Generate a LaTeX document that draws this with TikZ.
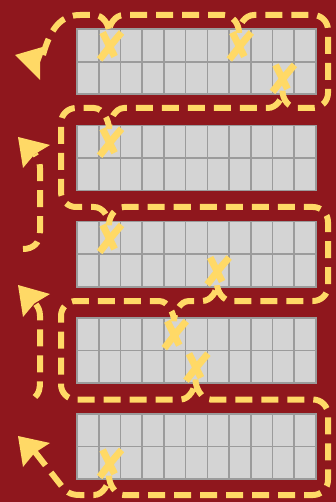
\documentclass[tikz,border=0pt]{standalone}
\begin{document}
\definecolor{bgred}{RGB}{143,23,29}
\definecolor{yel}{RGB}{255,217,102}
\definecolor{cellgray}{RGB}{212,212,212}
\definecolor{gline}{RGB}{155,155,155}
\begin{tikzpicture}[x=1pt,y=-1pt,
  dashpath/.style={draw=yel,line width=6pt,dash pattern=on 17pt off 9pt},
  xstroke/.style={draw=yel,line width=7pt},
  gridline/.style={draw=gline,line width=1.6pt},
  arrowtip/.style={fill=yel},
  xm/.pic={\draw[xstroke] (-10,14) .. controls (-3,5) and (4,-4) .. (12,-13);
           \draw[xstroke] (-7,-13) .. controls (-2,-3) and (1,3) .. (5,11);}]
\useasboundingbox (0,0) rectangle (336,502);
\fill[bgred] (0,0) rectangle (336,502);
% grids
\foreach \i in {0,...,4}{
  \pgfmathsetmacro\T{29.3+96.2*\i}
  \fill[cellgray] (77,\T) rectangle (316,\T+65);
  \foreach \k in {1,...,10}{\draw[gridline] (77+21.727*\k,\T) -- (77+21.727*\k,\T+65);}
  \draw[gridline] (77,\T+32.5) -- (316,\T+32.5);
  \draw[gridline] (77,\T) rectangle (316,\T+65);
}
% serpentine dashed path
\draw[dashpath] (43,55) .. controls (50,30) and (60,15) .. (80,15)
 -- (94,15) .. controls (103,15) and (109,24.5) .. (109,32.5) .. controls (109,24.5) and (115,15) .. (124,15)
 -- (224,15) .. controls (233,15) and (239,24.5) .. (239,32.5) .. controls (239,24.5) and (245,15) .. (254,15)
 -- (313,15) .. controls (321.3,15) and (328,21.7) .. (328,30)
 -- (328,93) .. controls (328,101.3) and (321.3,108) .. (313,108)
 -- (297.5,108) .. controls (288.5,108) and (282.5,98.9) .. (282.5,90.9) .. controls (282.5,98.9) and (276.5,108) .. (267.5,108)
 -- (124,108) .. controls (115,108) and (109,120.8) .. (109,128.8) .. controls (109,120.8) and (103,108) .. (94,108)
 -- (76,108) .. controls (67.7,108) and (61,114.7) .. (61,123)
 -- (61,192) .. controls (61,200.3) and (67.7,207) .. (76,207)
 -- (94,207) .. controls (103,207) and (109,217) .. (109,225) .. controls (109,217) and (115,207) .. (124,207)
 -- (313,207) .. controls (321.3,207) and (328,213.7) .. (328,222)
 -- (328,286) .. controls (328,294.3) and (321.3,301) .. (313,301)
 -- (232,301) .. controls (223,301) and (217,291.5) .. (217,283.5) .. controls (217,291.5) and (211,301) .. (202,301)
 -- (189,301) .. controls (180,301) and (174,313.2) .. (174,321.2) .. controls (174,313.2) and (168,301) .. (159,301)
 -- (76,301) .. controls (67.7,301) and (61,307.7) .. (61,316)
 -- (61,384.5) .. controls (61,392.8) and (67.7,399.5) .. (76,399.5)
 -- (180.5,399.5) .. controls (189.5,399.5) and (195.5,387.7) .. (195.5,379.7) .. controls (195.5,387.7) and (201.5,399.5) .. (210.5,399.5)
 -- (313,399.5) .. controls (321.3,399.5) and (328,406.2) .. (328,414.5)
 -- (328,480) .. controls (328,488.3) and (321.3,495) .. (313,495)
 -- (124,495) .. controls (115,495) and (109,483.9) .. (109,475.9) .. controls (109,483.9) and (103,495) .. (94,495)
 -- (80,495) .. controls (70,495) and (66,492) .. (60,484) -- (35,452);
% extra vertical return arrows
\draw[dashpath] (23,249) .. controls (33,249) and (40,243) .. (40,232) -- (40,168) .. controls (40,162) and (38,159) .. (35,154);
\draw[dashpath] (35,397) .. controls (39,393) and (40,390) .. (40,380) -- (40,316) .. controls (40,310) and (38,307) .. (35,303);
% X marks
\pic at (109.6,45.5) {xm};
\pic at (239.3,45.5) {xm};
\pic at (282.5,77.9) {xm};
\pic at (109.6,141.8) {xm};
\pic at (109.6,238) {xm};
\pic at (217.2,270.5) {xm};
\pic at (174.3,334.2) {xm};
\pic at (196,366.7) {xm};
\pic at (109.6,462.9) {xm};
% arrowheads
\fill[arrowtip] (15,55) -- (46,46) -- (40.1,62.2) -- (40,80) -- cycle;
\fill[arrowtip] (18,137) -- (50,145) -- (34.4,154.4) -- (23,168) -- cycle;
\fill[arrowtip] (18,285) -- (50,294) -- (34.4,303.4) -- (23,317) -- cycle;
\fill[arrowtip] (18,436) -- (50,443) -- (34.4,453) -- (23,467) -- cycle;
\end{tikzpicture}
\end{document}
